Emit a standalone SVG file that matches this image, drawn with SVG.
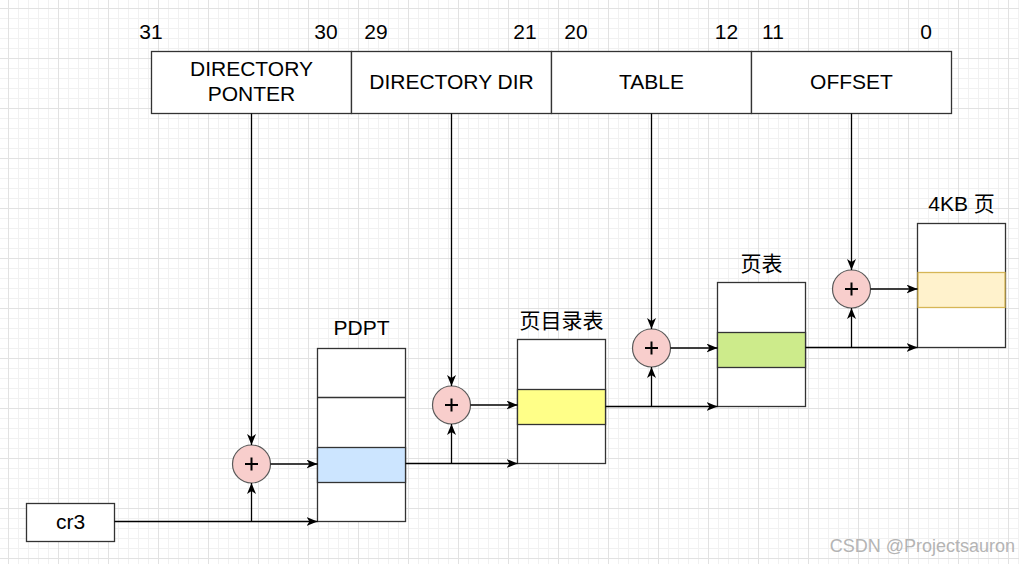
<svg xmlns="http://www.w3.org/2000/svg" width="1019" height="564" viewBox="0 0 1019 564">
<defs>
<pattern id="minor" patternUnits="userSpaceOnUse" x="8" y="8" width="10" height="10">
<path d="M0.5 0V10M0 0.5H10" stroke="#f1f1f1" stroke-width="1" fill="none"/>
</pattern>
<pattern id="major" patternUnits="userSpaceOnUse" x="8" y="8" width="50" height="50">
<path d="M0.5 0V50M0 0.5H50" stroke="#e2e2e2" stroke-width="1" fill="none"/>
</pattern>
<marker id="arr" markerUnits="userSpaceOnUse" markerWidth="12" markerHeight="10" refX="11" refY="4.5" orient="auto">
<path d="M0,0 L11,4.5 L0,9 L3,4.5 Z" fill="#000"/>
</marker>
</defs>
<style>
.t{font-family:"Liberation Sans",Arial,"Noto Sans CJK SC",sans-serif;font-size:21px;fill:#000;text-anchor:middle}
.box{fill:#fff;stroke:#333;stroke-width:1.3}
.sep{stroke:#333;stroke-width:1.3;fill:none}
.c{fill:#f8cecc;stroke:#5a5a5a;stroke-width:1.2}
.plus{stroke:#000;stroke-width:2;fill:none}
.ln{stroke:#000;stroke-width:1.3;fill:none}
.a{stroke:#000;stroke-width:1.3;fill:none;marker-end:url(#arr)}
</style>
<rect width="1019" height="564" fill="#fff"/>
<rect width="1019" height="564" fill="url(#minor)"/>
<rect width="1019" height="564" fill="url(#major)"/>

<g id="bit-numbers">
<text class="t" x="151" y="39">31</text>
<text class="t" x="326" y="39">30</text>
<text class="t" x="376" y="39">29</text>
<text class="t" x="525" y="39">21</text>
<text class="t" x="576" y="39">20</text>
<text class="t" x="726.5" y="39">12</text>
<text class="t" x="773" y="39">11</text>
<text class="t" x="926" y="39">0</text>
</g>

<g id="field-directory-pointer">
<rect class="box" x="151.5" y="51.5" width="200" height="62"/>
<text class="t" x="251.5" y="76">DIRECTORY</text>
<text class="t" x="251.5" y="101">PONTER</text>
</g>
<g id="field-directory-dir">
<rect class="box" x="351.5" y="51.5" width="200" height="62"/>
<text class="t" x="451.5" y="89">DIRECTORY DIR</text>
</g>
<g id="field-table">
<rect class="box" x="551.5" y="51.5" width="200" height="62"/>
<text class="t" x="651.5" y="89">TABLE</text>
</g>
<g id="field-offset">
<rect class="box" x="751.5" y="51.5" width="200" height="62"/>
<text class="t" x="851.5" y="89">OFFSET</text>
</g>

<g id="cr3">
<rect class="box" x="26.5" y="503.5" width="88" height="38"/>
<text class="t" x="70.5" y="529">cr3</text>
</g>

<g id="pdpt">
<text class="t" x="361.5" y="335">PDPT</text>
<rect class="box" x="317.5" y="348.5" width="88" height="173"/>
<rect x="317.5" y="447.5" width="88" height="35" fill="#cce5ff" stroke="#333" stroke-width="1.3"/>
<path class="sep" d="M317.5 397.5H405.5"/>
</g>

<g id="page-directory">
<text class="t" x="561.5" y="328">页目录表</text>
<rect class="box" x="517.5" y="339.5" width="88" height="124"/>
<rect x="517.5" y="389.5" width="88" height="35" fill="#ffff88" stroke="#333" stroke-width="1.3"/>
</g>

<g id="page-table">
<text class="t" x="761.5" y="271">页表</text>
<rect class="box" x="717.5" y="282.5" width="88" height="124"/>
<rect x="717.5" y="332.5" width="88" height="35" fill="#cdeb8b" stroke="#333" stroke-width="1.3"/>
</g>

<g id="page-4kb">
<text class="t" x="961.5" y="211">4KB 页</text>
<rect class="box" x="917.5" y="223.5" width="88" height="124"/>
<rect x="918" y="272.5" width="87" height="35" fill="#fff2cc" stroke="#d6b656" stroke-width="1.3"/>
</g>

<g id="sum1">
<circle class="c" cx="251.5" cy="464" r="19"/>
<path class="plus" d="M245 464H258M251.5 457.5V470.5"/>
</g>
<g id="sum2">
<circle class="c" cx="451.5" cy="405" r="19"/>
<path class="plus" d="M445 405H458M451.5 398.5V411.5"/>
</g>
<g id="sum3">
<circle class="c" cx="651.5" cy="348" r="19"/>
<path class="plus" d="M645 348H658M651.5 341.5V354.5"/>
</g>
<g id="sum4">
<circle class="c" cx="851.5" cy="289" r="19"/>
<path class="plus" d="M845 289H858M851.5 282.5V295.5"/>
</g>

<g id="connectors">
<path class="a" d="M251.5 113.5V445"/>
<path class="a" d="M451.5 113.5V386"/>
<path class="a" d="M651.5 113.5V329"/>
<path class="a" d="M851.5 113.5V270"/>

<path class="a" d="M114.5 521.5H317.5"/>
<path class="a" d="M251.5 521.5V483"/>
<path class="a" d="M270.5 464H317.5"/>

<path class="a" d="M405.5 463.5H517.5"/>
<path class="a" d="M451.5 463.5V424"/>
<path class="a" d="M470.5 405H517.5"/>

<path class="a" d="M605.5 406.5H717.5"/>
<path class="a" d="M651.5 406.5V367"/>
<path class="a" d="M670.5 348H717.5"/>

<path class="a" d="M805.5 347.5H917.5"/>
<path class="a" d="M851.5 347.5V308"/>
<path class="a" d="M870.5 289H917.5"/>
</g>

<text x="1015" y="552" font-family="Liberation Sans,Arial,sans-serif" font-size="18" fill="#b4b4b4" text-anchor="end">CSDN @Projectsauron</text>
</svg>
